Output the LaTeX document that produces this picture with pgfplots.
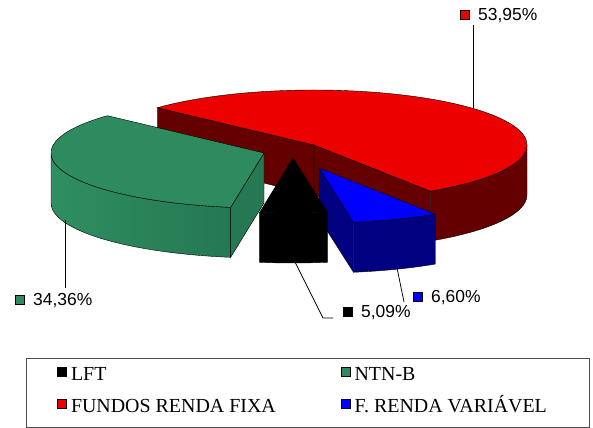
\documentclass[border=0pt]{standalone}
\usepackage{pgfplots}
\pgfplotsset{compat=1.18}
\usepackage{fontspec}
\setmainfont{Liberation Serif}
\newfontfamily\arialfont{Liberation Sans}

\definecolor{cLFT}{RGB}{0,0,0}
\definecolor{cNTN}{RGB}{46,139,96}
\definecolor{cNTNl}{RGB}{47,142,98}
\definecolor{cNTNs}{RGB}{37,120,82}
\definecolor{cFRF}{RGB}{236,0,0}
\definecolor{cFRFs}{RGB}{100,0,0}
\definecolor{cFRV}{RGB}{0,0,255}
\definecolor{cFRVs}{RGB}{0,0,128}

% shares (%)
\def\vLFT{5.09}
\def\vFRV{6.60}
\def\vFRF{53.95}
\def\vNTN{34.36}

\pgfmathsetmacro\aA{261}
\pgfmathsetmacro\aB{\aA+3.6*\vLFT}
\pgfmathsetmacro\aC{\aB+3.6*\vFRV}
\pgfmathsetmacro\aD{\aC+3.6*\vFRF}
\pgfmathsetmacro\aE{\aD+3.6*\vNTN}

\newcommand\Rx{213}
\newcommand\Ry{55}
\newcommand\Th{50}

% #1 start angle, #2 end angle, #3 cx, #4 cy (from top), #5 top colour, #6 side colour, #7 wall style
\newcommand\slice[7]{%
 \pgfmathsetmacro\sA{#1}\pgfmathsetmacro\sB{#2}%
 \pgfmathsetmacro\cx{#3}\pgfmathsetmacro\cy{428-#4}\pgfmathsetmacro\cyb{\cy-\Th}%
 \pgfmathsetmacro\ax{\cx+\Rx*cos(\sA)}\pgfmathsetmacro\ay{\cy+\Ry*sin(\sA)}\pgfmathsetmacro\ayb{\ay-\Th}%
 \pgfmathsetmacro\bx{\cx+\Rx*cos(\sB)}\pgfmathsetmacro\by{\cy+\Ry*sin(\sB)}\pgfmathsetmacro\byb{\by-\Th}%
 \pgfmathparse{cos(\sA)>0?1:0}%
 \ifdim\pgfmathresult pt>0.5pt
   \fill[#6,draw=black,line width=0.4bp] (axis cs:\cx,\cy) -- (axis cs:\ax,\ay) -- (axis cs:\ax,\ayb) -- (axis cs:\cx,\cyb) -- cycle;
 \fi
 \pgfmathparse{cos(\sB)<0?1:0}%
 \ifdim\pgfmathresult pt>0.5pt
   \fill[#6,draw=black,line width=0.4bp] (axis cs:\cx,\cy) -- (axis cs:\bx,\by) -- (axis cs:\bx,\byb) -- (axis cs:\cx,\cyb) -- cycle;
 \fi
 \pgfmathsetmacro\lo{max(\sA,180)}\pgfmathsetmacro\hi{min(\sB,360)}%
 \pgfmathparse{\hi>\lo?1:0}%
 \ifdim\pgfmathresult pt>0.5pt
   \pgfmathsetmacro\lx{\cx+\Rx*cos(\lo)}\pgfmathsetmacro\ly{\cy+\Ry*sin(\lo)}%
   \path[#7,draw=black,line width=0.4bp] (axis cs:\lx,\ly) arc[start angle=\lo,end angle=\hi,x radius=\Rx bp,y radius=\Ry bp] -- ++(0bp,-\Th bp) arc[start angle=\hi,end angle=\lo,x radius=\Rx bp,y radius=\Ry bp] -- cycle;
 \fi
 \fill[#5,draw=black,line width=0.4bp] (axis cs:\cx,\cy) -- (axis cs:\ax,\ay) arc[start angle=\sA,end angle=\sB,x radius=\Rx bp,y radius=\Ry bp] -- cycle;
}

\newcommand\sq[1]{\raisebox{1.5bp}{\setlength\fboxsep{0pt}\setlength\fboxrule{1bp}\fcolorbox{black}{#1}{\rule{0pt}{8bp}\rule{8bp}{0pt}}}}

\begin{document}
\begin{tikzpicture}
\begin{axis}[
  scale only axis, width=593bp, height=428bp,
  xmin=0, xmax=593, ymin=0, ymax=428,
  hide axis, clip=false,
  legend columns=2,
  legend cell align=left,
  legend style={at={(axis cs:57,64)}, anchor=north west, draw=none, fill=none, inner sep=0pt,
     font=\fontsize{20}{24}\selectfont,
     nodes={inner xsep=4bp, inner ysep=2bp, text height=14bp, text depth=4bp},
     row sep=10bp,
     /tikz/column 2/.style={column sep=61bp}},
  legend image code/.code={\draw[#1,draw=black,line width=0.8bp] (0bp,-1bp) rectangle (9bp,8bp);},
]
\addlegendimage{fill=cLFT}
\addlegendentry{LFT}
\addlegendimage{fill=cNTN}
\addlegendentry{NTN-B}
\addlegendimage{fill=cFRF}
\addlegendentry{FUNDOS RENDA FIXA}
\addlegendimage{fill=cFRV}
\addlegendentry{F. RENDA VARIÁVEL}

\coordinate (BBsw) at (axis cs:0,0);
\coordinate (BBne) at (axis cs:593,428);

\pgfplotsextra{%
  \slice{\aC}{\aD}{314}{145}{cFRF}{cFRFs}{fill=cFRFs}%
  \slice{\aD-360}{\aE-360}{264}{153}{cNTN}{cNTNs}{left color=cNTNl,right color=cNTNs}%
  \slice{\aB}{\aC}{319}{168}{cFRV}{cFRVs}{fill=cFRVs}%
  \slice{\aA}{\aB}{293}{158}{cLFT}{cLFT}{fill=cLFT}%
}

% leader lines
\draw[line width=0.75bp] (axis cs:473,403) -- (axis cs:473,320);
\draw[line width=0.75bp] (axis cs:65,208) -- (axis cs:65,140);
\draw[line width=0.75bp] (axis cs:295,166) -- (axis cs:323,110) -- (axis cs:333,110);
\draw[line width=0.75bp] (axis cs:397,160) -- (axis cs:404,126);

% data labels
\node[anchor=base west, inner sep=0, font=\arialfont\fontsize{17.5}{20}\selectfont] at (axis cs:460,407) {\sq{cFRF}\hspace{8bp}53,95\%};
\node[anchor=base west, inner sep=0, font=\arialfont\fontsize{17.5}{20}\selectfont] at (axis cs:15,122) {\sq{cNTN}\hspace{8bp}34,36\%};
\node[anchor=base west, inner sep=0, font=\arialfont\fontsize{17.5}{20}\selectfont] at (axis cs:343,110) {\sq{cLFT}\hspace{8bp}5,09\%};
\node[anchor=base west, inner sep=0, font=\arialfont\fontsize{17.5}{20}\selectfont] at (axis cs:413,125) {\sq{cFRV}\hspace{8bp}6,60\%};

% legend frame
\draw[line width=0.8bp, black!70] (axis cs:26,70) rectangle (axis cs:589,0.5);
\end{axis}
\pgfresetboundingbox
\path (BBsw) rectangle (BBne);
\end{tikzpicture}
\end{document}
